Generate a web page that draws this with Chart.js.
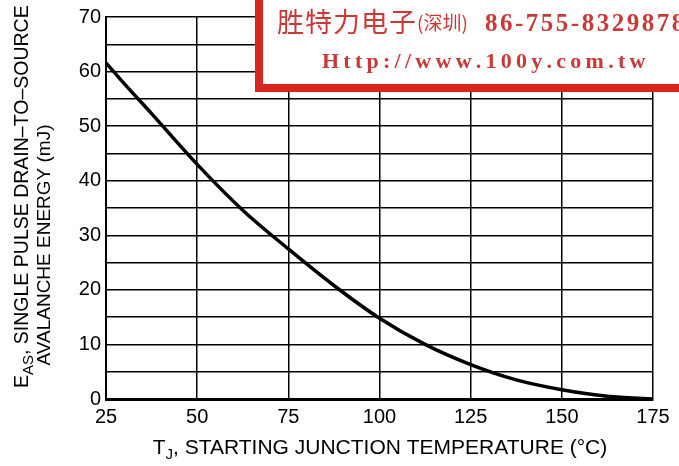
<!DOCTYPE html>
<html>
<head>
<meta charset="utf-8">
<script src="https://cdn.jsdelivr.net/npm/chart.js@4/dist/chart.umd.min.js"></script>
<style>
html,body{margin:0;padding:0;background:#fff;}
#wrap{position:relative;width:679px;height:466px;}
</style>
</head>
<body>
<div id="wrap"><canvas id="c" width="679" height="466"></canvas></div>
<script>
// Data
const temperatures = [25, 30, 37.5, 50, 62.5, 75, 87.5, 100, 112.5, 125, 137.5, 150, 162.5, 175];
const energy_mJ    = [61.6, 57.8, 52.3, 43.0, 34.6, 27.5, 20.8, 14.8, 10.0, 6.3, 3.5, 1.7, 0.5, 0.0];
const xTicks = [25, 50, 75, 100, 125, 150, 175];
const yTickLabels = [0, 10, 20, 30, 40, 50, 60, 70];

const yTitle1 = ['E', 'AS', ', SINGLE PULSE DRAIN\u2013TO\u2013SOURCE'];
const yTitle2 = 'AVALANCHE ENERGY (mJ)';
const xTitle = ['T', 'J', ', STARTING JUNCTION TEMPERATURE (\u00B0C)'];
const stampLine1 = ['胜特力电子', '(深圳)', '86-755-83298787'];
const stampLine2 = 'Http://www.100y.com.tw';

const FONT = '"Liberation Sans", Arial, sans-serif';

function spacedText(ctx, text, x, y, spacing) {
  for (const ch of text) {
    ctx.fillText(ch, x, y);
    x += ctx.measureText(ch).width + spacing;
  }
  return x;
}

const titlesPlugin = {
  id: 'titles',
  afterDraw(chart) {
    const ctx = chart.ctx;
    ctx.save();
    ctx.fillStyle = '#000';
    // Y title line 1 (with subscript)
    ctx.save();
    ctx.translate(23, 388);
    ctx.rotate(-Math.PI / 2);
    ctx.textBaseline = 'middle';
    ctx.textAlign = 'left';
    let x = 0;
    ctx.font = '19.5px ' + FONT;
    ctx.fillText(yTitle1[0], x, 0);
    x += ctx.measureText(yTitle1[0]).width;
    ctx.font = '15px ' + FONT;
    ctx.fillText(yTitle1[1], x, 6);
    x += ctx.measureText(yTitle1[1]).width;
    ctx.font = '19.5px ' + FONT;
    ctx.fillText(yTitle1[2], x, 0);
    ctx.restore();
    // Y title line 2
    ctx.save();
    ctx.translate(45, 245);
    ctx.rotate(-Math.PI / 2);
    ctx.textBaseline = 'middle';
    ctx.textAlign = 'center';
    ctx.font = '19px ' + FONT;
    ctx.fillText(yTitle2, 0, 0);
    ctx.restore();
    // X title
    ctx.font = '21px ' + FONT;
    const w0 = ctx.measureText(xTitle[0]).width;
    const w2 = ctx.measureText(xTitle[2]).width;
    ctx.font = '15px ' + FONT;
    const w1 = ctx.measureText(xTitle[1]).width;
    let sx = 380 - (w0 + w1 + w2) / 2;
    ctx.textBaseline = 'middle';
    ctx.textAlign = 'left';
    ctx.font = '21px ' + FONT;
    ctx.fillText(xTitle[0], sx, 448);
    sx += w0;
    ctx.font = '15px ' + FONT;
    ctx.fillText(xTitle[1], sx, 455);
    sx += w1;
    ctx.font = '21px ' + FONT;
    ctx.fillText(xTitle[2], sx, 448);

    // Red stamp box
    ctx.fillStyle = '#d9261c';
    ctx.fillRect(255, 0, 424, 92);
    ctx.fillStyle = '#ffffff';
    ctx.fillRect(263, 0, 416, 84);
    ctx.fillStyle = '#c93a36';
    ctx.textBaseline = 'alphabetic';
    ctx.font = '27px "Noto Sans CJK SC", sans-serif';
    let tx = spacedText(ctx, stampLine1[0], 277, 32, 1);
    ctx.font = '19px "Noto Sans CJK SC", sans-serif';
    tx = spacedText(ctx, stampLine1[1], tx, 30, 0);
    ctx.font = 'bold 25px "Liberation Serif", serif';
    spacedText(ctx, stampLine1[2], 485, 31, 2.5);
    ctx.font = 'bold 22px "Liberation Serif", serif';
    const natural = ctx.measureText(stampLine2).width;
    const sp = (321 - natural) / (stampLine2.length - 1);
    spacedText(ctx, stampLine2, 322, 68, sp);
    ctx.restore();
  }
};

new Chart(document.getElementById('c'), {
  type: 'line',
  data: {
    datasets: [{
      data: temperatures.map((t, i) => ({x: t, y: energy_mJ[i]})),
      borderColor: '#000',
      borderWidth: 3.5,
      pointRadius: 0,
      tension: 0.4,
      cubicInterpolationMode: 'monotone',
      fill: false
    }]
  },
  options: {
    responsive: false,
    animation: false,
    devicePixelRatio: 1,
    layout: {padding: {top: 16, right: 26, left: 0, bottom: 0}},
    plugins: {legend: {display: false}, tooltip: {enabled: false}},
    scales: {
      x: {
        type: 'linear',
        min: 25, max: 175,
        afterBuildTicks(s) { s.ticks = xTicks.map(v => ({value: v})); },
        afterFit(s) { s.height = 67; },
        grid: {color: '#000', lineWidth: 1.5, drawTicks: false},
        border: {color: '#000', width: 3},
        ticks: {color: '#000', font: {family: FONT, size: 20}, padding: 6, maxRotation: 0}
      },
      y: {
        type: 'linear',
        min: 0, max: 70,
        afterBuildTicks(s) {
          const t = [];
          for (let v = 0; v <= 70; v += 5) t.push({value: v});
          s.ticks = t;
        },
        afterFit(s) { s.width = 106; },
        grid: {color: '#000', lineWidth: 1.5, drawTicks: false},
        border: {color: '#000', width: 2},
        ticks: {
          color: '#000', font: {family: FONT, size: 20}, padding: 5,
          callback: (v) => yTickLabels.includes(v) ? String(v) : ''
        }
      }
    }
  },
  plugins: [titlesPlugin]
});
</script>
</body>
</html>
